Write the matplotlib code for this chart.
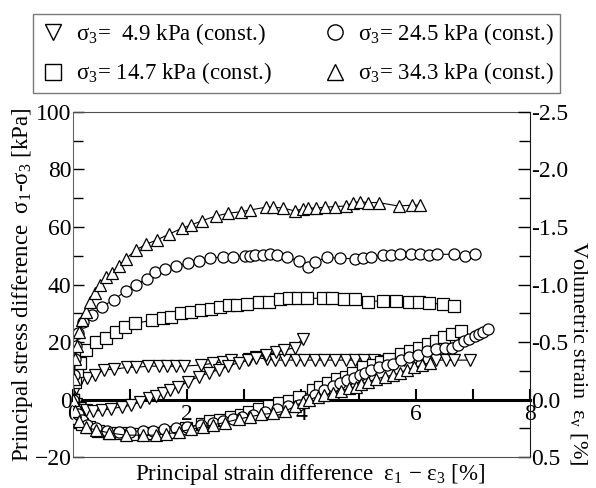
import matplotlib
matplotlib.use('Agg')
import matplotlib.pyplot as plt
from matplotlib.lines import Line2D
from matplotlib.ticker import MultipleLocator, FuncFormatter

plt.rcParams['font.family'] = ['Liberation Serif', 'DejaVu Serif']
plt.rcParams['mathtext.fontset'] = 'custom'
plt.rcParams['mathtext.rm'] = 'Liberation Serif'
plt.rcParams['mathtext.it'] = 'Liberation Serif'

# sigma3 = 4.9 kPa (inverted triangles)
s49_x = [0, 0.05, 0.13, 0.25, 0.39, 0.54, 0.72, 0.95, 1.11, 1.32, 1.51, 1.65, 1.8, 1.95,
         2.24, 2.45, 2.62, 2.77, 3.08, 3.2, 3.39, 3.54, 3.72, 3.9, 4.05, 4.23, 4.4, 4.58,
         4.78, 4.93, 5.1, 5.27, 5.45, 5.62, 5.8, 5.98, 6.19, 6.36, 6.53, 6.68, 6.96]
s49_q = [0, 4, 6.8, 7.4, 8.5, 10.3, 10.5, 11.2, 11.2, 11.6, 11.6, 11.6, 11.6, 11.6,
         12, 12.6, 13.1, 13.7, 14, 14.7, 14, 13.7, 13.7, 13.7, 13.7, 13.7, 13.7, 13.7,
         13.7, 13.7, 13.7, 13.7, 13.5, 13.5, 13.7, 13.7, 13.7, 13.7, 13.7, 13.7, 13.7]
v49_x = [0, 0.05, 0.12, 0.22, 0.35, 0.5, 0.67, 0.85, 1.02, 1.18, 1.33, 1.46, 1.58, 1.7,
         1.84, 2.02, 2.2, 2.38, 2.55, 2.72, 2.9, 3.06, 3.2, 3.38, 3.55, 3.7, 3.88, 4.02]
v49_v = [0, 0.04, 0.07, 0.09, 0.1, 0.095, 0.08, 0.065, 0.05, 0.02, -0.01, -0.03, -0.055, -0.08,
         -0.11, -0.155, -0.2, -0.23, -0.26, -0.29, -0.32, -0.34, -0.36, -0.39, -0.41, -0.43, -0.45, -0.53]

# sigma3 = 14.7 kPa (squares)
s147_x = [0, 0.03, 0.07, 0.12, 0.23, 0.41, 0.57, 0.75, 0.91, 1.09, 1.39, 1.57, 1.71, 1.89,
          2.06, 2.24, 2.42, 2.57, 2.74, 2.88, 3.05, 3.26, 3.44, 3.62, 3.78, 3.94, 4.09, 4.37,
          4.54, 4.75, 4.93, 5.16, 5.43, 5.66, 5.89, 6.06, 6.23, 6.48, 6.68]
s147_q = [0, 6, 10, 12.6, 17.2, 20.1, 21.3, 23.6, 25.1, 26.5, 27.6, 28.5, 28.8, 30,
          30.5, 31.1, 31.4, 32.3, 32.9, 32.9, 33.1, 33.9, 34, 34.8, 35.2, 35.2, 35.2, 35.2,
          35.2, 34.8, 35, 34, 34.4, 34.4, 34, 34, 33.5, 33.2, 32.5]
v147_x = [0, 0.04, 0.08, 0.16, 0.28, 0.44, 0.63, 0.84, 1.04, 1.27, 1.51, 1.74, 1.98, 2.26,
          2.4, 2.57, 2.77, 2.94, 3.09, 3.25, 3.44, 3.61, 3.79, 3.96, 4.2, 4.33, 4.46, 4.62,
          4.78, 4.91, 5.08, 5.25, 5.4, 5.54, 5.75, 5.91, 6.06, 6.22, 6.36, 6.5, 6.64, 6.79]
v147_v = [0, 0.09, 0.16, 0.21, 0.24, 0.27, 0.29, 0.29, 0.3, 0.29, 0.29, 0.28, 0.25, 0.21,
          0.19, 0.18, 0.15, 0.135, 0.106, 0.085, 0.056, 0.03, 0.01, -0.02, -0.08, -0.106, -0.14, -0.18,
          -0.2, -0.23, -0.28, -0.3, -0.33, -0.35, -0.4, -0.42, -0.45, -0.48, -0.51, -0.54, -0.57, -0.6]

# sigma3 = 24.5 kPa (circles)
s245_x = [0, 0.01, 0.03, 0.05, 0.09, 0.17, 0.34, 0.5, 0.71, 0.92, 1.1, 1.29, 1.44, 1.61,
          1.8, 2.02, 2.2, 2.4, 2.63, 2.81, 3.02, 3.1, 3.19, 3.32, 3.45, 3.58, 3.74, 3.95,
          4.11, 4.24, 4.44, 4.67, 4.93, 5.08, 5.22, 5.42, 5.57, 5.72, 5.92, 6.08, 6.23,
          6.37, 6.67, 6.86, 7.04]
s245_q = [0, 8.5, 14, 18.5, 23, 27, 29.4, 32.3, 34.6, 37.7, 39.9, 42, 44.3, 45.4,
          46.4, 47.4, 48.3, 49.3, 49.5, 49.7, 49.9, 49.9, 50.2, 50.2, 50.6, 50.3, 49.5, 48.2,
          46.2, 47.7, 49.5, 49.1, 49, 49.1, 49.5, 50.2, 50.2, 50.6, 50.6, 50.5, 50.2,
          50.5, 50.5, 49.9, 50.6]
v245_x = [0, 0.03, 0.08, 0.15, 0.25, 0.4, 0.6, 0.8, 1.0, 1.22, 1.4, 1.6, 1.8, 2.0, 2.25,
          2.45, 2.62, 2.8, 2.96, 3.15, 3.37, 3.57, 3.76, 3.96, 4.1, 4.23, 4.4, 4.55, 4.67,
          4.8, 4.92, 5.02, 5.12, 5.22, 5.36, 5.49, 5.61, 5.75, 5.89, 6.04, 6.2, 6.36, 6.51,
          6.64, 6.74, 6.84, 6.94, 7.04, 7.11, 7.18, 7.27]
v245_v = [0, 0.08, 0.13, 0.18, 0.22, 0.25, 0.27, 0.28, 0.28, 0.27, 0.27, 0.26, 0.25, 0.24, 0.22,
          0.2, 0.19, 0.17, 0.155, 0.135, 0.11, 0.085, 0.06, 0.045, 0.0, -0.04, -0.08, -0.12, -0.14,
          -0.17, -0.19, -0.21, -0.23, -0.26, -0.28, -0.3, -0.31, -0.34, -0.37, -0.39, -0.42, -0.44, -0.445,
          -0.45, -0.47, -0.51, -0.53, -0.55, -0.57, -0.59, -0.61]

# sigma3 = 34.3 kPa (triangles)
s343_x = [0, 0.02, 0.04, 0.07, 0.1, 0.15, 0.22, 0.3, 0.38, 0.47, 0.57, 0.68, 0.8, 0.93,
          1.1, 1.28, 1.47, 1.68, 1.9, 2.07, 2.26, 2.5, 2.72, 2.94, 3.1, 3.38, 3.5, 3.68,
          3.88, 4.02, 4.12, 4.26, 4.42, 4.58, 4.78, 4.91, 5.03, 5.16, 5.35, 5.7, 5.94, 6.07]
s343_q = [0, 7, 14, 18.5, 23.5, 27.5, 30.5, 34, 37, 40, 42.5, 44, 46.5, 49,
          52, 54, 55.5, 57.5, 59.5, 60.7, 62.2, 63.8, 64.8, 65.3, 65.9, 66.9, 66.9, 66.6,
          65.6, 66.3, 66.5, 66.6, 66.9, 67.1, 67.3, 68.5, 68.8, 68.5, 68.5, 67.3, 67.6, 67.6]
v343_x = [0, 0.04, 0.1, 0.22, 0.4, 0.63, 0.92, 1.22, 1.45, 1.63, 1.86, 2.06, 2.27, 2.45,
          2.66, 2.9, 3.1, 3.3, 3.5, 3.72, 3.88, 4.02, 4.14, 4.29, 4.4, 4.55, 4.7, 4.84, 4.95,
          5.05, 5.16, 5.3, 5.46, 5.6, 5.72, 5.85, 5.98, 6.12, 6.25]
v343_v = [0, 0.1, 0.19, 0.24, 0.265, 0.29, 0.31, 0.31, 0.31, 0.3, 0.28, 0.26, 0.24, 0.22,
          0.2, 0.17, 0.15, 0.13, 0.12, 0.1, 0.06, 0.02, 0.0, -0.025, -0.04, -0.055, -0.077, -0.1, -0.11,
          -0.135, -0.155, -0.175, -0.2, -0.21, -0.23, -0.26, -0.28, -0.3, -0.32]

labels = [r'σ$_3$=  4.9 kPa (const.)', r'σ$_3$= 14.7 kPa (const.)',
          r'σ$_3$= 24.5 kPa (const.)', r'σ$_3$= 34.3 kPa (const.)']
markers = ['v', 's', 'o', '^']

fig = plt.figure(figsize=(5.96, 4.88), dpi=100)
ax = fig.add_axes([0.1225, 0.0635, 0.7665, 0.707])
ax2 = ax.twinx()

style = dict(color='black', lw=0.8, mfc='white', mec='black', mew=0.9, ms=8)
stress = [(s49_x, s49_q), (s147_x, s147_q), (s245_x, s245_q), (s343_x, s343_q)]
vol = [(v49_x, v49_v), (v147_x, v147_v), (v245_x, v245_v), (v343_x, v343_v)]
for (x, y), m in zip(stress, markers):
    ax.plot(x, y, marker=m, **style)
for (x, y), m in zip(vol, markers):
    ax2.plot(x, y, marker=m, **style)

ax.set_xlim(0, 8)
ax.set_ylim(-20, 100)
ax2.set_ylim(0.5, -2.5)

# x axis drawn along zero stress
ax.spines['bottom'].set_position(('data', 0))
ax.spines['bottom'].set_linewidth(2.2)
ax.spines['top'].set_color('0.3')
ax.spines['left'].set_color('0.4')
ax2.spines['bottom'].set_color('0.3')
ax2.spines['right'].set_color('0.1')
for sp in ['top', 'left', 'right']:
    ax2.spines[sp].set_visible(sp == 'right')
ax.spines['right'].set_visible(False)

ax.xaxis.set_major_locator(MultipleLocator(1))
ax.xaxis.set_major_formatter(FuncFormatter(lambda v, p: '%d' % v if int(v) % 2 == 0 else ''))
ax.tick_params(axis='x', direction='in', length=8, width=1.5, labelsize=17, pad=3)
ax.yaxis.set_major_locator(MultipleLocator(20))
ax.yaxis.set_minor_locator(MultipleLocator(10))
ax.tick_params(axis='y', which='major', direction='in', length=8, width=1, labelsize=17, pad=1)
ax.tick_params(axis='y', which='minor', direction='in', length=7, width=1)

ax2.yaxis.set_major_locator(MultipleLocator(0.5))
ax2.yaxis.set_minor_locator(MultipleLocator(0.25))
ax2.yaxis.set_major_formatter(FuncFormatter(lambda v, p: '%.1f' % v))
ax2.tick_params(axis='y', which='major', direction='in', length=9, width=1, labelsize=17, pad=1)
ax2.tick_params(axis='y', which='minor', direction='in', length=8, width=1)

ax.set_ylabel(r'Principal stress difference  σ$_1$-σ$_3$ [kPa]', fontsize=16.5, labelpad=0)
ax2.set_ylabel(r'Volumetric strain  ε$_\mathrm{v}$ [%]', fontsize=16, rotation=270,
               va='center', ha='center')
ax2.yaxis.set_label_coords(1.107, 0.30)
fig.text(0.52, 0.003, r'Principal strain difference  ε$_1$ − ε$_3$ [%]', fontsize=16.5,
         ha='center', va='bottom')

handles = [Line2D([], [], ls='none', marker=m, ms=11, mfc='white', mec='black', mew=1.0)
           for m in markers]
leg = fig.legend(handles, labels, ncol=2, loc='center', mode='expand',
                 bbox_to_anchor=(0.055, 0.80, 0.885, 0.18), fontsize=16.5, frameon=True,
                 fancybox=False, edgecolor='0.35', handletextpad=0.4, columnspacing=0.6,
                 handlelength=1.2, labelspacing=0.6, borderaxespad=0, borderpad=0.3)
leg.get_frame().set_linewidth(1.0)

fig.savefig('out.png', dpi=100)
